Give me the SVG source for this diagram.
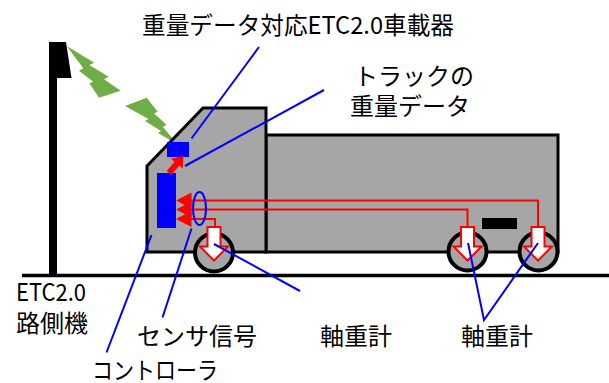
<svg xmlns="http://www.w3.org/2000/svg" width="609" height="383" viewBox="0 0 609 383">
  <style>
    .lbl { font-family: "Noto Sans CJK JP", "Noto Sans", sans-serif; font-size: 24px; fill: #000; }
    .body { fill: #A6A6A6; stroke: #000; stroke-width: 3; stroke-linejoin: miter; }
    .wheel { fill: #A6A6A6; stroke: #000; stroke-width: 4; }
    .bolt { fill: #70AD47; }
    .unit { fill: #0000FF; }
    .sig { fill: none; stroke: #FF0000; stroke-width: 2; }
    .red { fill: #FF0000; }
    .load { fill: #FFFFFF; stroke: #FF0000; stroke-width: 2; stroke-linejoin: miter; }
    .lead { fill: none; stroke: #0000FF; stroke-width: 2; }
  </style>
  <defs>
    <!-- downward block arrow for the axle load sensors, tip at origin -->
    <path id="loadArrow" d="M-6.5,-33.5 H6.5 V-14 H14 L0,0 L-14,-14 H-6.5 Z"/>
  </defs>

  <!-- ground -->
  <g id="ground">
    <line x1="22" y1="275.5" x2="609" y2="275.5" stroke="#000" stroke-width="3.5"/>
  </g>

  <!-- roadside ETC2.0 unit on its pole -->
  <g id="roadside-unit">
    <polygon points="49,42 66,42 71.5,78 57,78 57,275 49,275" fill="#000"/>
  </g>

  <!-- radio link -->
  <g id="radio-link">
    <polygon class="bolt" points="66.7,46 94.3,62.7 89.3,65 108.7,76.7 104,79.3 120.7,90.7 99,97.7 89.3,83.3 93.3,81.7 79,70.7 83.3,68.3"/>
    <polygon class="bolt" points="125,106 146.7,97.7 157.7,111.7 154,113.3 166.7,125 162.7,126.7 178.3,145 158,133 161,131 145,121 148.5,119"/>
  </g>

  <!-- truck -->
  <g id="truck">
    <rect class="body" x="266" y="135" width="292" height="117"/>
    <polygon class="body" points="147,166 203,108 266,108 266,252 147,252"/>
    <rect x="482" y="218" width="35" height="11" fill="#000"/>
    <circle class="wheel" cx="214" cy="252.5" r="19"/>
    <circle class="wheel" cx="467.5" cy="251.5" r="19"/>
    <circle class="wheel" cx="538.5" cy="251.5" r="19"/>
  </g>

  <!-- on-board ETC2.0 unit -->
  <g id="obu">
    <rect class="unit" x="167" y="142" width="22" height="15"/>
  </g>

  <!-- controller -->
  <g id="controller">
    <rect class="unit" x="157" y="173" width="19" height="55"/>
  </g>

  <!-- axle load sensors -->
  <g id="axle-sensor-front">
    <use href="#loadArrow" class="load" x="214" y="260.5"/>
  </g>
  <g id="axle-sensor-rear1">
    <use href="#loadArrow" class="load" x="467.5" y="260.5"/>
  </g>
  <g id="axle-sensor-rear2">
    <use href="#loadArrow" class="load" x="538" y="260.5"/>
  </g>

  <!-- signal flows -->
  <g id="connectors">
    <polyline class="sig" points="189,200.5 538,200.5 538,227"/>
    <polyline class="sig" points="189,209.5 467.5,209.5 467.5,227"/>
    <polyline class="sig" points="189,219 215,219 215,227"/>
    <polygon class="red" points="176,200.5 191.5,192.5 191.5,208.5"/>
    <polygon class="red" points="176,209.5 191.5,201.5 191.5,217.5"/>
    <polygon class="red" points="176,219 191.5,211 191.5,227"/>
    <polygon class="red" points="171.3,174.9 179.3,165.6 182.8,168.6 183.3,156 171,158.8 174.6,161.8 166.7,171.1"/>
    <ellipse cx="199.5" cy="208.5" rx="6.5" ry="16.5" fill="none" stroke="#0000FF" stroke-width="2"/>

    <!-- leader lines -->
    <line class="lead" x1="259" y1="47" x2="191.5" y2="138.5"/>
    <line class="lead" x1="324" y1="90" x2="185" y2="166"/>
    <line class="lead" x1="151.5" y1="235" x2="106.5" y2="352.5"/>
    <line class="lead" x1="191.5" y1="228.5" x2="162.5" y2="317.5"/>
    <line class="lead" x1="214" y1="244" x2="300" y2="291"/>
    <polyline class="lead" points="468,243 484,320 538,243"/>
  </g>

  <!-- labels -->
  <g id="labels">
    <text class="lbl" x="142" y="34" textLength="312" lengthAdjust="spacingAndGlyphs">重量データ対応ETC2.0車載器</text>
    <text class="lbl" x="354" y="85">トラックの</text>
    <text class="lbl" x="350" y="114.5">重量データ</text>
    <text class="lbl" x="16" y="300.5" textLength="70" lengthAdjust="spacingAndGlyphs">ETC2.0</text>
    <text class="lbl" x="16" y="332">路側機</text>
    <text class="lbl" x="137" y="345">センサ信号</text>
    <text class="lbl" x="320" y="345">軸重計</text>
    <text class="lbl" x="461" y="345">軸重計</text>
    <text class="lbl" x="92" y="379" textLength="126" lengthAdjust="spacingAndGlyphs">コントローラ</text>
  </g>
</svg>
